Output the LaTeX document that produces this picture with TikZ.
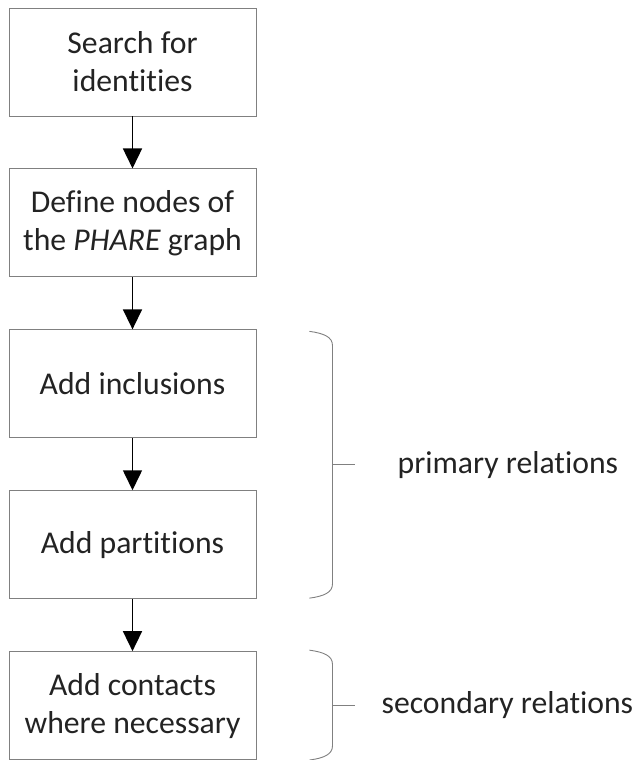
\documentclass[tikz,border=0pt]{standalone}
\usepackage{fontspec}
\setmainfont{Carlito}[Ligatures=NoCommon]
\usetikzlibrary{positioning,arrows.meta,calc}
\definecolor{boxgray}{RGB}{128,128,128}
\definecolor{txtgray}{RGB}{35,35,35}
\tikzset{
	stepbox/.style={draw=boxgray, line width=0.9pt, minimum width=247pt, minimum height=108pt,
		align=center, text=txtgray, font=\fontsize{31.7}{38}\selectfont, inner sep=0pt},
	flow/.style={-{Triangle[width=19pt,length=20pt]}, line width=1.6pt, black},
	brace/.style={draw=boxgray, line width=0.9pt},
	grouplabel/.style={text=txtgray, font=\fontsize{31.7}{38}\selectfont, anchor=west, inner sep=0pt}
}
\begin{document}
\begin{tikzpicture}[x=1pt, y=-1pt, node distance=52pt]
\useasboundingbox (0,0) rectangle (635,760);
% Schritte
\node[stepbox] (search) at (132.5,62) {Search for\\identities};
\node[stepbox, below=of search] (define) {Define nodes of\\the \textit{PHARE} graph};
\node[stepbox, below=of define] (incl) {Add inclusions};
\node[stepbox, below=of incl] (part) {Add partitions};
\node[stepbox, below=of part] (contact) {Add contacts\\where necessary};
% Pfeile
\draw[flow] (search) -- (define);
\draw[flow] (define) -- (incl);
\draw[flow] (incl) -- (part);
\draw[flow] (part) -- (contact);
% Klammer primaer
\coordinate (ptop) at ($(incl.north east)+(53,2)$);
\coordinate (pbot) at ($(part.south east)+(53,-1)$);
\draw[brace] (ptop) .. controls +(15,2) and +(0,-8) .. ++(23,14) -- ($(pbot)+(23,-14)$) .. controls +(0,8) and +(15,-2) .. (pbot);
\coordinate (pmid) at ($(ptop)!0.5!(pbot)+(23,0)$);
\node[grouplabel] (primary) at ($(pmid)+(65,0)$) {primary relations};
\draw[brace] (pmid) -- ++(23,0);
% Klammer sekundaer
\coordinate (stop) at ($(contact.north east)+(53,-1)$);
\coordinate (sbot) at ($(contact.south east)+(53,0)$);
\draw[brace] (stop) .. controls +(15,2) and +(0,-8) .. ++(23,14) -- ($(sbot)+(23,-14)$) .. controls +(0,8) and +(15,-2) .. (sbot);
\coordinate (smid) at ($(stop)!0.5!(sbot)+(23,0)$);
\node[grouplabel] (secondary) at ($(smid)+(49,0)$) {secondary relations};
\draw[brace] (smid) -- ++(23,0);
\end{tikzpicture}
\end{document}
